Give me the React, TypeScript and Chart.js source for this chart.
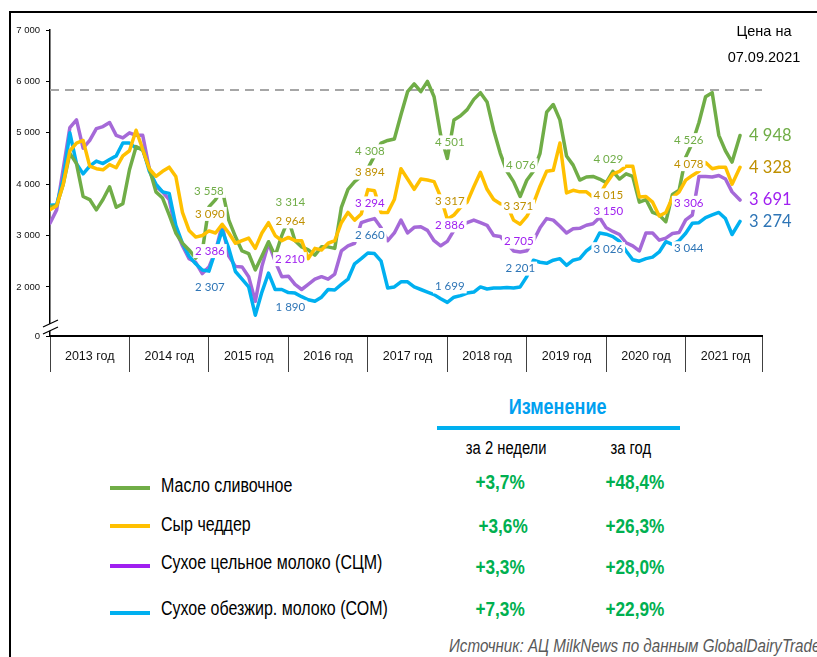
import React, { useEffect, useRef } from 'react';
import { Chart, registerables } from 'chart.js';

Chart.register(...registerables);

// ---------- data ----------
const START_YEAR = 2013;
const YEARS = [2013, 2014, 2015, 2016, 2017, 2018, 2019, 2020, 2021];
const YEAR_LABELS = ['2013 год', '2014 год', '2015 год', '2016 год', '2017 год', '2018 год', '2019 год', '2020 год', '2021 год'];
const X_MAX = 2021.96;
const PRICE_DATE = '07.09.2021';
const LAST_X = 2021 + (8 + 6 / 30) / 12; // 07.09.2021

// monthly values Jan 2013 .. Aug 2021, last element = 07.09.2021
const BUTTER = [
  3560, 3580, 4000, 4600, 4400, 3760, 3700, 3500, 3700, 3950, 3550, 3620,
  4280, 4730, 4660, 4300, 3850, 3730, 3400, 3050, 2850, 2720, 2560, 2700,
  3558, 3700, 3900, 3300, 2980, 2700, 2650, 2330, 2600, 2880, 2600, 3000,
  3314, 2900, 2780, 2720, 2620, 2780, 2780, 2750, 3550, 3900, 4050, 4150,
  4308, 4550, 4800, 4850, 4880, 5350, 5800, 5950, 5800, 6000, 5700, 4950,
  4501, 5250, 5330, 5450, 5650, 5780, 5600, 5050, 4600, 4250, 4050, 3760,
  4076, 4250, 4600, 5400, 5550, 5250, 4550, 4370, 4080, 4140, 4150, 4100,
  4029, 4250, 4100, 4200, 4150, 3650, 3700, 3450, 3400, 3270, 3800, 3880,
  4526, 4800, 5200, 5700, 5780, 4950, 4650, 4430, 4948,
];
const CHEDDAR = [
  3500, 3580, 4000, 4650, 4800, 4850, 4350, 4300, 4280, 4380, 4320, 4550,
  4650, 5050, 4680, 4300, 4150, 4250, 4330, 4150, 3450, 3100, 2970, 3000,
  3090, 3050, 3220, 3050, 2850, 2900, 2950, 2750, 3050, 3250, 3000, 2900,
  2964, 2900, 2900, 2550, 2750, 2720, 2850, 2900, 3250, 3450, 3300, 3420,
  3894, 3870, 3450, 3450, 3700, 4300, 4100, 3900, 4100, 4080, 4050, 3750,
  3317, 3400, 3550, 3650, 3950, 4230, 3900, 3700, 3620, 3600, 3300, 3220,
  3371, 3620, 3960, 4250, 4270, 4800, 3830, 3880, 3850, 3850, 3750, 3800,
  4015, 4200, 4250, 4350, 4350, 3750, 3760, 3650, 3380, 3450, 3740, 3850,
  4078, 4170, 4250, 4420, 4300, 4330, 4330, 4000, 4328,
];
const WMP = [
  3240, 3500, 4300, 5100, 5250, 4700, 4850, 5080, 5120, 5200, 4950, 4900,
  5000, 4950, 4950, 4300, 3950, 3850, 3700, 3100, 2800, 2550, 2480, 2260,
  2386, 2700, 3200, 2600, 2400, 2390, 2200, 1720, 2400, 2850, 2500, 2200,
  2210, 2050, 1950, 2050, 2150, 2200, 2150, 2250, 2700, 2800, 2850, 3250,
  3294, 3330, 3150, 2900, 3050, 3300, 3050, 3160, 3170, 3100, 2900, 2800,
  2886, 3100, 3200, 3250, 3300, 3250, 3200, 3000, 2980, 2850, 2700, 2680,
  2705, 2900, 3150, 3330, 3300, 3180, 3050, 3130, 3140, 3200, 3230, 3350,
  3150, 3080, 3020, 2860, 2800, 2700, 3050, 3050, 2910, 2950, 3040, 3060,
  3306, 3400, 4150, 4150, 4140, 4170, 4100, 3850, 3691,
];
const SMP = [
  3590, 3600, 4100, 5000, 4400, 4200, 4350, 4450, 4400, 4480, 4550, 4800,
  4800, 4700, 4700, 4250, 4000, 3850, 3820, 3200, 2850, 2600, 2450, 2330,
  2307, 2700, 3100, 2750, 2300, 2150, 2000, 1450, 1900, 2270, 1950, 1950,
  1890, 1880, 1810, 1750, 1720, 1800, 1950, 1940, 2050, 2150, 2450, 2550,
  2660, 2650, 2500, 1980, 2000, 2100, 2100, 2000, 1950, 1900, 1850, 1770,
  1699, 1800, 1830, 1880, 1900, 2000, 1960, 1980, 1980, 1990, 1980, 2000,
  2201, 2520, 2480, 2460, 2520, 2550, 2420, 2520, 2550, 2700, 2800, 3050,
  3026, 2980, 2890, 2700, 2530, 2500, 2550, 2580, 2680, 2880, 2830, 2900,
  3044, 3240, 3250, 3350, 3400, 3450, 3330, 3020, 3274,
];
const REF_LEVEL = 5833;
const Y_MIN = 1045;
const Y_MAX = 7000;
const Y_TICKS = [1045, 2000, 3000, 4000, 5000, 6000, 7000];

// month indices whose values are labelled (start of each year)
const YEAR_MARKS = [24, 36, 48, 60, 72, 84, 96];

const SERIES_NAMES = ['Масло сливочное', 'Сыр чеддер', 'Сухое цельное молоко (СЦМ)', 'Сухое обезжир. молоко (СОМ)'];
const CHANGE_2W = ['+3,7%', '+3,6%', '+3,3%', '+7,3%'];
const CHANGE_YEAR = ['+48,4%', '+26,3%', '+28,0%', '+22,9%'];

// ---------- styles ----------
const SANS = '"Liberation Sans", Arial, sans-serif';
const LABEL_FONT = 'Lato, "Open Sans", sans-serif';
const NARROW_SCALE = 0.82;

const SERIES = [
  { data: BUTTER, line: '#70AD47', text: '#70AD47', swatch: '#70AD47',
    shift: [[0, -16], [2, -17], [2, -17], [2.5, -16], [-6, -15], [2, -23], [3, -17]] },
  { data: CHEDDAR, line: '#FFC000', text: '#BF9000', swatch: '#FFC000',
    shift: [[1, -17], [2, -16], [2, -17], [2.5, -18], [-8.5, -10], [2, 12], [3, -16]] },
  { data: WMP, line: '#A569D8', text: '#A020F0', swatch: '#A020F0',
    shift: [[1, -16], [1.5, -17], [2, -17], [2.5, -16], [-8, -9], [2, -17], [3, -17]] },
  { data: SMP, line: '#00B0F0', text: '#2E75B6', swatch: '#00B0F0',
    shift: [[1, 16], [2, 15], [2, -18], [2.5, -16], [-6.5, -8], [2, 15], [3, 15]] },
];
// drawing order: first dataset is on top
const DRAW_ORDER = [1, 0, 3, 2];

const xAt = (i: number, n: number) => (i === n - 1 ? LAST_X : START_YEAR + i / 12);

const fmt = (v: number) => {
  const r = Math.round(v);
  const th = Math.floor(r / 1000);
  return th > 0 ? `${th} ${String(r % 1000).padStart(3, '0')}` : String(r);
};

const X_TICKS: number[] = [];
YEARS.forEach((y) => { X_TICKS.push(y, y + 0.5); });
X_TICKS.push(X_MAX);

const annotatePlugin = {
  id: 'annotate',
  afterDatasetsDraw(chart: any) {
    const { ctx, scales } = chart;
    const xs = scales.x;
    const ys = scales.y;
    ctx.save();
    ctx.font = `11.5px ${LABEL_FONT}`;
    ctx.textAlign = 'center';
    ctx.textBaseline = 'middle';
    const items: { t: string; px: number; py: number; c: string }[] = [];
    SERIES.forEach((s) => {
      YEAR_MARKS.forEach((m, k) => {
        const v = s.data[m];
        const [dx, dy] = s.shift[k];
        const px = xs.getPixelForValue(xAt(m, s.data.length)) + dx;
        const py = ys.getPixelForValue(v) + dy;
        items.push({ t: fmt(v), px, py, c: s.text });
      });
    });
    items.forEach((it) => {
      const w = ctx.measureText(it.t).width + 4;
      ctx.fillStyle = '#ffffff';
      ctx.fillRect(it.px - w / 2, it.py - 7, w, 14);
    });
    items.forEach((it) => {
      ctx.fillStyle = it.c;
      ctx.fillText(it.t, it.px, it.py);
    });
    // end values
    ctx.font = `16.5px ${LABEL_FONT}`;
    ctx.textAlign = 'left';
    SERIES.forEach((s) => {
      const n = s.data.length;
      const v = s.data[n - 1];
      ctx.fillStyle = s.text;
      ctx.fillText(fmt(v), xs.getPixelForValue(xAt(n - 1, n)) + 9, ys.getPixelForValue(v));
    });
    ctx.restore();
  },
  afterDraw(chart: any) {
    const { ctx, chartArea } = chart;
    const ax = chartArea.left;
    const b = chartArea.bottom;
    ctx.save();
    ctx.fillStyle = '#ffffff';
    ctx.beginPath();
    ctx.moveTo(ax - 7, b - 9);
    ctx.lineTo(ax + 8, b - 16);
    ctx.lineTo(ax + 8, b - 9);
    ctx.lineTo(ax - 7, b - 2);
    ctx.closePath();
    ctx.fill();
    ctx.strokeStyle = '#000';
    ctx.lineWidth = 1.3;
    ctx.beginPath();
    ctx.moveTo(ax - 7, b - 9);
    ctx.lineTo(ax + 8, b - 16);
    ctx.moveTo(ax - 7, b - 2);
    ctx.lineTo(ax + 8, b - 9);
    ctx.stroke();
    ctx.restore();
  },
};

type Align = 'left' | 'center';
const Txt = ({ text, x, cy, align, font, color, w = 200 }: { text: string; x: number; cy: number; align: Align; font: string; color: string; w?: number }) => (
  <div style={{ position: 'absolute', left: align === 'center' ? x - w / 2 : x, top: cy - 12, width: w, height: 24, lineHeight: '24px', textAlign: align, whiteSpace: 'nowrap' }}>
    <span style={{ display: 'inline-block', font, color, transform: `scaleX(${NARROW_SCALE})`, transformOrigin: align === 'center' ? '50% 50%' : '0 50%' }}>{text}</span>
  </div>
);

export default function App() {
  const ref = useRef<HTMLCanvasElement>(null);

  useEffect(() => {
    if (!ref.current) return;
    const datasets: any[] = DRAW_ORDER.map((si) => {
      const s = SERIES[si];
      const n = s.data.length;
      return {
        data: s.data.map((v, i) => ({ x: xAt(i, n), y: v })),
        borderColor: s.line,
        borderWidth: 3.5,
        pointRadius: 0,
        tension: 0,
        borderJoinStyle: 'round',
        borderCapStyle: 'round',
      };
    });
    datasets.push({
      data: [{ x: START_YEAR, y: REF_LEVEL }, { x: X_MAX, y: REF_LEVEL }],
      borderColor: '#A6A6A6',
      borderWidth: 2,
      borderDash: [9, 6],
      pointRadius: 0,
    });

    const chart = new Chart(ref.current, {
      type: 'line',
      data: { datasets },
      options: {
        animation: false,
        responsive: false,
        layout: { padding: { top: 30, right: 55, left: 0, bottom: 0 } },
        plugins: { legend: { display: false }, tooltip: { enabled: false } },
        scales: {
          x: {
            type: 'linear',
            min: START_YEAR,
            max: X_MAX,
            afterBuildTicks: (sc: any) => { sc.ticks = X_TICKS.map((v) => ({ value: v })); },
            afterFit: (sc: any) => { sc.height = 54; },
            ticks: {
              autoSkip: false,
              maxRotation: 0,
              minRotation: 0,
              padding: -23,
              color: '#111',
              font: { family: SANS, size: 12.5 },
              callback: (v: any) => {
                const idx = YEARS.indexOf(Math.floor(v));
                return Math.abs(v - Math.floor(v) - 0.5) < 1e-6 && idx >= 0 ? YEAR_LABELS[idx] : '';
              },
            },
            grid: {
              drawOnChartArea: false,
              drawTicks: true,
              tickLength: 36,
              tickWidth: 1,
              tickColor: (c: any) => {
                const v = c.tick ? c.tick.value : 0;
                return Math.abs(v - Math.round(v)) < 1e-6 || v === X_MAX ? '#404040' : 'rgba(0,0,0,0)';
              },
            },
            border: { display: true, color: '#000', width: 2 },
          },
          y: {
            type: 'linear',
            min: Y_MIN,
            max: Y_MAX,
            afterBuildTicks: (sc: any) => { sc.ticks = Y_TICKS.map((v) => ({ value: v })); },
            afterFit: (sc: any) => { sc.width = 50; },
            ticks: {
              padding: 6,
              color: '#111',
              font: { family: SANS, size: 9.5 },
              callback: (v: any) => (v === Y_MIN ? '0' : fmt(v)),
            },
            grid: { drawOnChartArea: false, drawTicks: true, tickLength: 4, tickColor: '#000', tickWidth: 1 },
            border: { display: true, color: '#000', width: 1.5 },
          },
        },
      },
      plugins: [annotatePlugin],
    } as any);
    return () => chart.destroy();
  }, []);

  const rowText = [486, 525, 563, 609];
  const rowSwatch = [488, 526, 566, 613];
  const rowVal = [482, 526, 567, 609];

  return (
    <div style={{ position: 'absolute', left: 0, top: 0, width: 817, height: 657, overflow: 'hidden', background: '#fff' }}>
      <div style={{ position: 'absolute', left: 9, top: 11, width: 900, height: 700, borderTop: '2px solid #000', borderLeft: '2px solid #000' }} />
      <canvas ref={ref} width={817} height={390} style={{ position: 'absolute', left: 0, top: 0, width: 817, height: 390, display: 'block' }} />
      <div style={{ position: 'absolute', left: 714, top: 18, width: 100, textAlign: 'center', font: `14.5px ${SANS}`, lineHeight: '26px', color: '#000' }}>
        Цена на<br />{PRICE_DATE}
      </div>

      <Txt text="Изменение" x={558} cy={406} align="center" font={`bold 22px ${SANS}`} color="#00A0F0" />
      <div style={{ position: 'absolute', left: 437, top: 426, width: 243, height: 4, background: '#00B0F0' }} />
      <Txt text="за 2 недели" x={506} cy={449} align="center" font={`18px ${SANS}`} color="#000" />
      <Txt text="за год" x={631} cy={449} align="center" font={`18px ${SANS}`} color="#000" />

      {SERIES_NAMES.map((name, i) => (
        <React.Fragment key={name}>
          <div style={{ position: 'absolute', left: 110, top: rowSwatch[i] - 2, width: 40, height: 4, background: SERIES[i].swatch }} />
          <Txt text={name} x={161} cy={rowText[i]} align="left" font={`19.5px ${SANS}`} color="#000" w={320} />
          <Txt text={CHANGE_2W[i]} x={i === 1 ? 503 : 500} cy={rowVal[i]} align="center" font={`bold 21px ${SANS}`} color="#00B050" w={100} />
          <Txt text={CHANGE_YEAR[i]} x={635} cy={rowVal[i]} align="center" font={`bold 21px ${SANS}`} color="#00B050" w={100} />
        </React.Fragment>
      ))}

      <Txt text="Источник: АЦ MilkNews по данным GlobalDairyTrade" x={449} cy={647} align="left" font={`italic 18.5px ${SANS}`} color="#595959" w={460} />
    </div>
  );
}
